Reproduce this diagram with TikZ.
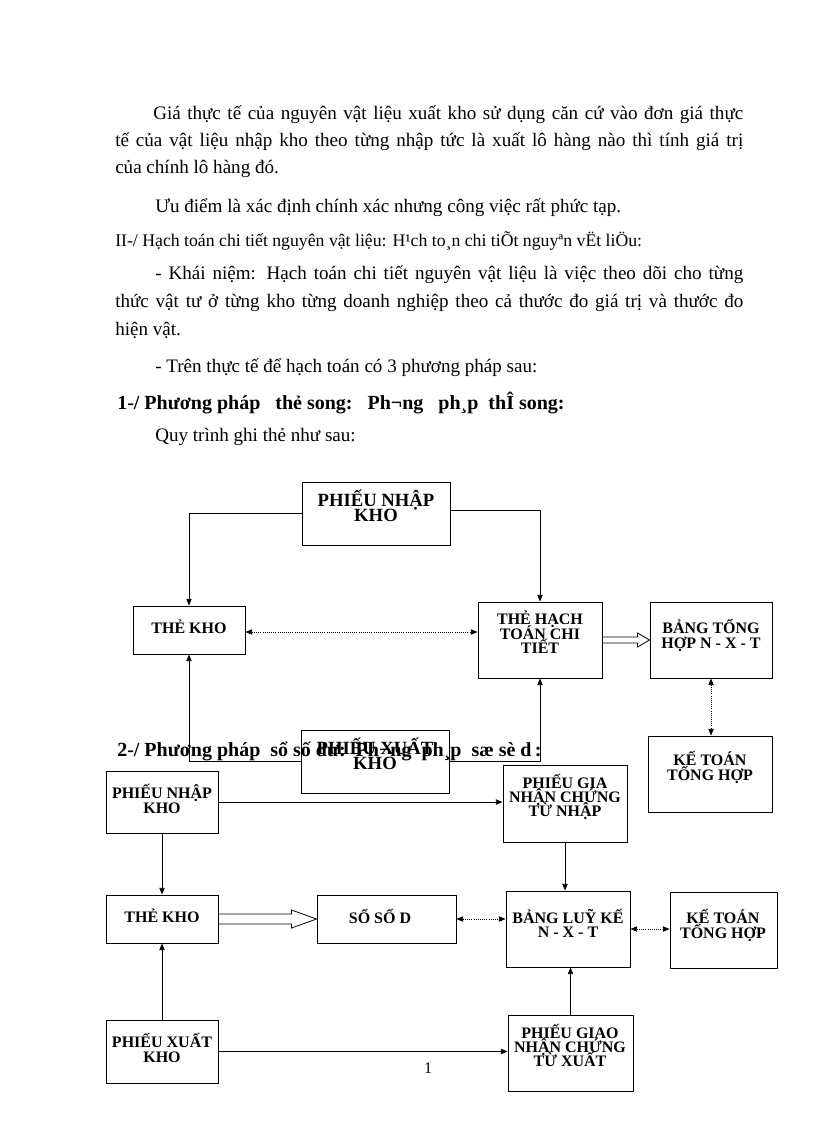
\documentclass[tikz,border=0pt]{standalone}
\usepackage{fontspec}
\setmainfont{Liberation Serif}
\usetikzlibrary{arrows.meta,fit,calc}
\newcommand\tightls{\setlength{\lineskiplimit}{-100pt}\setlength{\lineskip}{0pt}}
\begin{document}
\begin{tikzpicture}[x=0.75pt,y=-0.75pt,
  box/.style={draw, line width=0.7pt, inner sep=0pt},
  bt/.style={font=\bfseries\fontsize{12}{10.8}\selectfont\tightls, align=center, inner sep=0pt},
  btbig/.style={font=\bfseries\fontsize{14}{11.3}\selectfont\tightls, align=center, inner sep=0pt},
  body/.style={font=\fontsize{14.3}{17}\selectfont, anchor=base west, inner sep=0pt},
  bodyhead/.style={font=\bfseries\fontsize{15}{17}\selectfont, anchor=base west, inner sep=0pt},
  bodysmall/.style={font=\fontsize{13.3}{15}\selectfont, anchor=base west, inner sep=0pt},
  arr/.style={line width=0.6pt, -{Triangle[length=5pt,width=4pt]}},
  darr/.style={line width=0.6pt, densely dotted, {Triangle[length=5pt,width=4pt]}-{Triangle[length=5pt,width=4pt]}},
  blk/.style={line width=0.6pt, line join=miter},
]
\useasboundingbox (0,0) rectangle (816,1123);
\fill[white] (0,0) rectangle (816,1123);

% ---------- body text ----------
\node[body] (t1) at (153,120) {\makebox[442.5pt][s]{Giá thực tế của nguyên vật liệu xuất kho sử dụng căn cứ vào đơn giá thực}};
\node[body] (t2) at (115,147) {\makebox[471pt][s]{tế của vật liệu nhập kho theo từng nhập tức là xuất lô hàng nào thì tính giá trị}};
\node[body] (t3) at (115,174) {của chính lô hàng đó.};
\node[body] (t4) at (155,213) {Ưu điểm là xác định chính xác nhưng công việc rất phức tạp.};
\node[bodysmall] (t5) at (115,247) {II-/ Hạch toán chi tiết nguyên vật liệu: H¹ch to¸n chi tiÕt nguyªn vËt liÖu:};
\node[body] (t6) at (155,279) {\makebox[441pt][s]{- Khái niệm: Hạch toán chi tiết nguyên vật liệu là việc theo dõi cho từng}};
\node[body] (t7) at (115,307) {\makebox[471pt][s]{thức vật tư ở từng kho từng doanh nghiệp theo cả thước đo giá trị và thước đo}};
\node[body] (t8) at (115,335) {hiện vật.};
\node[body] (t9) at (155,372) {- Trên thực tế để hạch toán có 3 phương pháp sau:};
\node[bodyhead] (h1) at (117,409) {1-/ Phương pháp\ \ \ thẻ song:\ \ \ Ph¬ng\ \ \ ph¸p\ \ thÎ song:};
\node[body] (t10) at (155,441) {Quy trình ghi thẻ như sau:};

% ---------- diagram 1 ----------
\node[box, fit={(302,482) (450,545)}] (pnk1) {};
\node[btbig] (pnk1t) at (376,505.5) {PHIẾU NHẬP\\KHO};
\node[box, fit={(133,606) (245,654)}] (tk1) {};
\node[bt] (tk1t) at (189,627) {THẺ KHO};
\node[box, fit={(478,602) (602,678)}] (th1) {};
\node[bt] (th1t) at (540,632.5) {THẺ HẠCH\\TOÁN CHI\\TIẾT};
\node[box, fit={(650,602) (772,678)}] (bth1) {};
\node[bt] (bth1t) at (711,635.5) {BẢNG TỔNG\\HỢP N - X - T};
\node[box, fit={(648,736) (772,812)}] (kt1) {};
\node[bt] (kt1t) at (710,767.5) {KẾ TOÁN\\TỔNG HỢP};
\node[box, fit={(301,730) (449,793)}] (pxk1) {};
\node[btbig] (pxk1t) at (375,753.5) {PHIẾU XUẤT\\KHO};

\draw[arr] (pnk1.west) -| (tk1.north);
\draw[arr] ([yshift=2pt]pnk1.east) -| (th1.north);
\draw[arr] (pxk1.west) -| (tk1.south);
\draw[arr] (pxk1.east) -| (th1.south);
\draw[darr] ([yshift=-1.5pt]tk1.east) -- ([yshift=-1.5pt]tk1.east -| th1.west);
\draw[darr] (bth1.south) -- (bth1.south |- kt1.north);
\coordinate (a1) at (bth1.west |- th1.east);
\draw[blk] (th1.east) ++(0,-3) -- ($(a1)+(-12,-3)$) -- ($(a1)+(-12,-7)$) -- (a1)
  -- ($(a1)+(-12,7)$) -- ($(a1)+(-12,3)$) -- ($(th1.east)+(0,3)$);

% heading 2
\node[bodyhead] (h2) at (117,756) {2-/ Phương pháp\ \ sổ số dư:\ \ Ph¬ng\ \ ph¸p\ \ sæ sè d\,:};

% ---------- diagram 2 ----------
\node[box, fit={(106,771) (218,833)}] (pnk2) {};
\node[bt] (pnk2t) at (162,799) {PHIẾU NHẬP\\KHO};
\node[box, fit={(503,765) (627,842)}] (pg1) {};
\node[bt] (pg1t) at (565,797) {PHIẾU GIA\\NHẬN CHỨNG\\TỪ NHẬP};
\node[box, fit={(106,895) (218,943)}] (tk2) {};
\node[bt] (tk2t) at (162,916) {THẺ KHO};
\node[box, fit={(317,895) (456,943)}] (so) {};
\node[bt] (sot) at (380,916) {SỔ SỐ D};
\node[box, fit={(506,891) (630,967)}] (bl) {};
\node[bt] (blt) at (568,923.5) {BẢNG LUỸ KẾ\\N - X - T};
\node[box, fit={(670,892) (777,968)}] (kt2) {};
\node[bt] (kt2t) at (723,925.5) {KẾ TOÁN\\TỔNG HỢP};
\node[box, fit={(106,1020) (218,1083)}] (pxk2) {};
\node[bt] (pxk2t) at (162,1048) {PHIẾU XUẤT\\KHO};
\node[box, fit={(508,1015) (633,1091)}] (pg2) {};
\node[bt] (pg2t) at (570,1045.5) {PHIẾU GIAO\\NHẬN CHỨNG\\TỪ XUẤT};

\draw[arr] (pnk2.east) -- (pnk2.east -| pg1.west);
\draw[arr] (pg1.south) -- (pg1.south |- bl.north);
\draw[arr] (pnk2.south) -- (tk2.north);
\draw[arr] (pxk2.north) -- (tk2.south);
\draw[darr] (so.east) -- (so.east -| bl.west);
\draw[darr] (bl.east) -- (bl.east -| kt2.west);
\draw[arr] (pxk2.east) -- (pxk2.east -| pg2.west);
\draw[arr] (pg2.north) -- (pg2.north |- bl.south);
\coordinate (a2) at (so.west |- tk2.east);
\draw[blk] ($(tk2.east)+(0,-5)$) -- ($(a2)+(-25,-5)$) -- ($(a2)+(-25,-9)$) -- (a2)
  -- ($(a2)+(-25,9)$) -- ($(a2)+(-25,5)$) -- ($(tk2.east)+(0,5)$);

% page number
\node[font=\fontsize{12}{14}\selectfont, inner sep=0pt, anchor=base] (pn) at (428,1073) {1};
\end{tikzpicture}
\end{document}
